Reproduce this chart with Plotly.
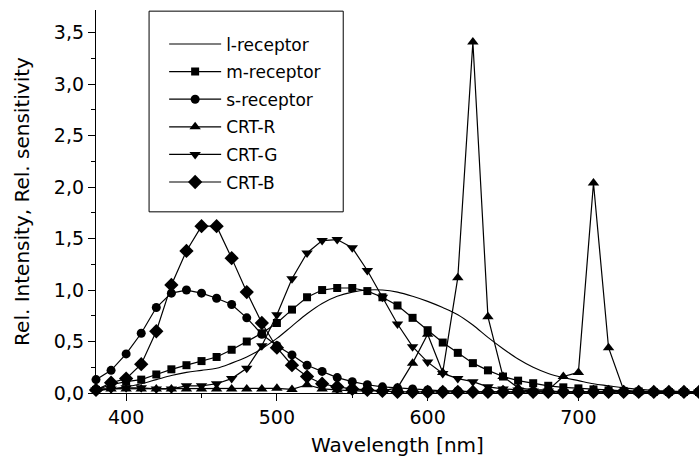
import plotly.graph_objects as go

wavelength = list(range(380, 790, 10))

l_receptor = [0.02, 0.04, 0.06, 0.09, 0.13, 0.17, 0.20, 0.22, 0.24, 0.29,
              0.35, 0.43, 0.53, 0.65, 0.77, 0.87, 0.94, 0.98, 1.00, 1.00,
              0.98, 0.94, 0.89, 0.83, 0.76, 0.66, 0.54, 0.43, 0.33, 0.25,
              0.19, 0.15, 0.12, 0.09, 0.07, 0.05, 0.035, 0.025, 0.02, 0.015, 0.01]

m_receptor = [0.03, 0.08, 0.11, 0.13, 0.18, 0.23, 0.27, 0.31, 0.35, 0.42,
              0.50, 0.58, 0.68, 0.81, 0.93, 1.00, 1.02, 1.02, 0.99, 0.93,
              0.85, 0.73, 0.61, 0.49, 0.39, 0.29, 0.22, 0.16, 0.12, 0.095,
              0.07, 0.055, 0.045, 0.035, 0.025, 0.02, 0.015, 0.01, 0.01, 0.01, 0.01]

s_receptor = [0.13, 0.22, 0.38, 0.58, 0.83, 0.97, 1.00, 0.97, 0.92, 0.86,
              0.73, 0.57, 0.46, 0.37, 0.27, 0.21, 0.15, 0.11, 0.08, 0.06,
              0.05, 0.04, 0.03, 0.02, 0.02, 0.01, 0.01, 0.01, 0.01, 0.01,
              0.01, 0.01, 0.01, 0.01, 0.01, 0.01, 0.01, 0.01, 0.01, 0.01, 0.01]

crt_r = [0.04, 0.04, 0.04, 0.04, 0.04, 0.04, 0.04, 0.04, 0.04, 0.04,
         0.04, 0.04, 0.045, 0.035, 0.08, 0.04, 0.03, 0.02, 0.02, 0.02,
         0.05, 0.29, 0.57, 0.20, 1.12, 3.41, 0.74, 0.16, 0.05, 0.03,
         0.03, 0.16, 0.20, 2.04, 0.44, 0.03, 0.01, 0.01, 0.01, 0.01, 0.01]

crt_g = [0.03, 0.04, 0.05, 0.05, 0.04, 0.04, 0.07, 0.07, 0.09, 0.14,
         0.24, 0.46, 0.76, 1.11, 1.36, 1.48, 1.49, 1.41, 1.19, 0.93,
         0.67, 0.45, 0.30, 0.19, 0.14, 0.11, 0.06, 0.04, 0.03, 0.02,
         0.02, 0.01, 0.01, 0.01, 0.01, 0.01, 0.01, 0.01, 0.01, 0.01, 0.01]

crt_b = [0.03, 0.10, 0.14, 0.28, 0.60, 1.05, 1.38, 1.62, 1.62, 1.31,
         0.98, 0.68, 0.44, 0.27, 0.16, 0.09, 0.06, 0.04, 0.03, 0.02,
         0.01, 0.01, 0.01, 0.01, 0.01, 0.01, 0.01, 0.01, 0.01, 0.01,
         0.01, 0.01, 0.01, 0.01, 0.01, 0.01, 0.01, 0.01, 0.01, 0.01, 0.01]

series = [
    ("l-receptor", l_receptor, None, 0),
    ("m-receptor", m_receptor, "square", 8),
    ("s-receptor", s_receptor, "circle", 9),
    ("CRT-R", crt_r, "triangle-up", 10),
    ("CRT-G", crt_g, "triangle-down", 10),
    ("CRT-B", crt_b, "diamond", 11),
]

FONT = "DejaVu Sans"
fig = go.Figure()
for i, (name, vals, sym, size) in enumerate(series):
    if sym is None:
        fig.add_trace(go.Scatter(
            x=wavelength, y=vals, name=name, mode="lines",
            line=dict(color="black", width=1.1, shape="spline"),
            legendgroup=str(i), cliponaxis=False))
    else:
        fig.add_trace(go.Scatter(
            x=wavelength, y=vals, name=name, mode="lines+markers",
            line=dict(color="black", width=1.2),
            marker=dict(symbol=sym, size=size, color="black",
                        line=dict(width=0)),
            legendgroup=str(i), cliponaxis=False))

# legend frame
fig.add_shape(type="rect", xref="paper", yref="paper",
              x0=0.088, x1=0.410, y0=0.473, y1=0.997,
              line=dict(color="black", width=1), fillcolor="rgba(0,0,0,0)")

fig.update_layout(
    width=699, height=467,
    margin=dict(l=96, r=0, t=10, b=74),
    paper_bgcolor="white", plot_bgcolor="white",
    separators=", ",
    font=dict(family=FONT, size=18, color="black"),
    showlegend=True,
    legend=dict(
        x=0.113, y=0.957, xanchor="left", yanchor="top",
        borderwidth=0, bgcolor="rgba(0,0,0,0)",
        font=dict(family=FONT, size=17, color="black"),
        tracegroupgap=2.5, itemwidth=52,
    ),
    xaxis=dict(
        range=[380, 780], showgrid=False, zeroline=False,
        showline=True, linecolor="black", linewidth=1.3,
        ticks="outside", ticklen=7, tickwidth=1.3, tickcolor="black",
        dtick=100, tick0=400,
        minor=dict(ticks="outside", ticklen=4, dtick=50, tick0=400,
                   tickcolor="black", tickwidth=1.3),
        tickfont=dict(family=FONT, size=19),
        title=dict(text="Wavelength [nm]", font=dict(family=FONT, size=20),
                   standoff=11),
    ),
    yaxis=dict(
        range=[0, 3.72], showgrid=False, zeroline=False,
        showline=True, linecolor="black", linewidth=1.3,
        ticks="outside", ticklen=7, tickwidth=1.3, tickcolor="black",
        dtick=0.5, tick0=0, tickformat=".1f",
        minor=dict(ticks="outside", ticklen=4, dtick=0.25, tick0=0,
                   tickcolor="black", tickwidth=1.3),
        tickfont=dict(family=FONT, size=19),
        title=dict(text="Rel. Intensity, Rel. sensitivity",
                   font=dict(family=FONT, size=20), standoff=18),
    ),
)

fig.write_html("out.html", config={"displayModeBar": False},
               post_script="document.body.style.margin='0';document.body.style.padding='0';")
